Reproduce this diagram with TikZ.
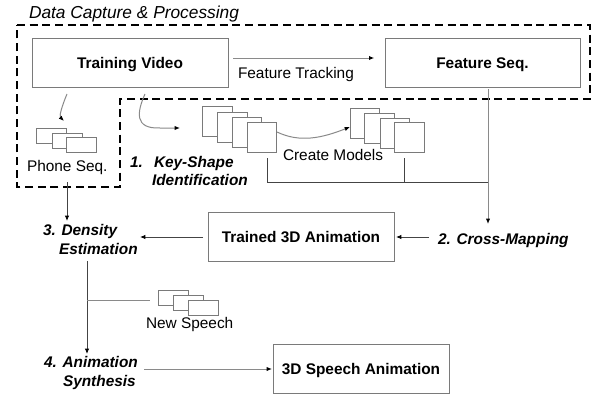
\documentclass[tikz,border=0pt]{standalone}
\usepackage{fontspec}
\setmainfont{Liberation Sans}
\usetikzlibrary{arrows.meta}
\definecolor{boxgray}{HTML}{7A7A7A}
\definecolor{linegray}{HTML}{8A8A8A}
\definecolor{darkline}{HTML}{444444}
\begin{document}
\begin{tikzpicture}[x=0.75pt,y=-0.75pt,
  every node/.style={inner sep=0pt,outer sep=0pt},
  txt/.style={font=\fontsize{11.55}{13}\selectfont,anchor=base west},
  ltxt/.style={font=\fontsize{11.55}{13}\selectfont\bfseries\itshape,anchor=base west},
  box/.style={draw=boxgray,line width=0.75pt,fill=white,minimum height=36.75pt,
    text height=8.3pt,text depth=0pt,font=\fontsize{11.55}{13}\selectfont\bfseries},
  card/.style={draw=boxgray,line width=0.75pt,fill=white,minimum width=22.5pt,minimum height=11.25pt},
  sq/.style={draw=boxgray,line width=0.75pt,fill=white,minimum width=22pt,minimum height=22.5pt},
  conn/.style={draw=linegray,line width=0.75pt},
  dconn/.style={draw=darkline,line width=0.6pt},
  arr/.style={-{Latex[length=4pt,width=3.2pt,color=black]}},
  dashbox/.style={draw=black,line width=1.6pt,dash pattern=on 6pt off 3.5pt}
]
\useasboundingbox (0,0) rectangle (597,396);
\fill[white] (0,0) rectangle (597,396);

% title
\node[txt,font=\fontsize{13}{15}\selectfont\itshape] (title) at (29,18.5) {Data Capture \& Processing};

% dashed region
\draw[dashbox] (17,25) -- (590,25) -- (590,99) -- (120,99) -- (120,187) -- (17,187) -- cycle;

% main boxes
\node[box,minimum width=147pt] (tv) at (130,62.5) {Training Video};
\node[box,minimum width=146.25pt] (fs) at (482.5,62.5) {Feature Seq.};
\node[box,minimum width=139.5pt] (ta) at (301,236.5) {Trained 3D Animation};
\node[box,minimum width=132pt] (sa) at (361,368.5) {3D Speech Animation};

% labels
\node[txt] (ft) at (238,79) {Feature Tracking};
\node[txt] (ps) at (27,171) {Phone Seq.};
\node[ltxt] (k1) at (130,167) {1.};
\node[ltxt] (k2) at (154,167) {Key-Shape};
\node[ltxt] (k3) at (152,185) {Identification};
\node[txt] (cm) at (283,160) {Create Models};
\node[ltxt] (d1) at (43,235) {3. Density};
\node[ltxt] (d2) at (59,254) {Estimation};
\node[ltxt] (cx) at (438,244) {2. Cross-Mapping};
\node[txt] (ns) at (146,328) {New Speech};
\node[ltxt] (a1) at (44,367.5) {4. Animation};
\node[ltxt] (a2) at (63,386) {Synthesis};

% phone seq cards
\node[card] (p1) at (51.5,135.5) {};
\node[card] (p2) at (67,140.5) {};
\node[card] (p3) at (81.5,145) {};

% key shape squares
\node[sq] (s1) at (217.5,121) {};
\node[sq] (s2) at (232.5,127) {};
\node[sq] (s3) at (247,132) {};
\node[sq] (s4) at (262,137) {};

% create models squares
\node[sq] (m1) at (365,123) {};
\node[sq] (m2) at (379.5,128) {};
\node[sq] (m3) at (395,133) {};
\node[sq] (m4) at (409.5,137.5) {};

% new speech cards
\node[card] (n1) at (173.5,297.5) {};
\node[card] (n2) at (188.5,302.5) {};
\node[card] (n3) at (203,307.5) {};

% coordinates
\coordinate (tvA) at (67,94);
\coordinate (tvB) at (145,94);
\coordinate (psE) at (64,121);
\coordinate (ksE) at (180,128);
\coordinate (s4r) at (277,132);
\coordinate (m1l) at (350,127);
\coordinate (j1) at (267,158);
\coordinate (j2) at (267,182);
\coordinate (j3) at (404,158);
\coordinate (j4) at (404,182);
\coordinate (fsB) at (488,89);
\coordinate (j5) at (488,182);
\coordinate (cxT) at (488,224);
\coordinate (cxL) at (429,237);
\coordinate (taR) at (396,237);
\coordinate (taL) at (203,237);
\coordinate (deR) at (140,237);
\coordinate (psB) at (67,182);
\coordinate (deT) at (67,221);
\coordinate (deB) at (87,261);
\coordinate (br) at (87,300);
\coordinate (nsL) at (150,300);
\coordinate (asT) at (87,354);
\coordinate (asR) at (144,369);
\coordinate (saL) at (272,369);

% connectors
\draw[conn,arr] (tv.east) ++(5,-4.5) coordinate (tvR) -- ([xshift=-8]fs.west |- tvR);
\draw[conn,arr] (tvA) .. controls (62,106) and (59,116) .. (psE);
\draw[conn,arr] (tvB) .. controls (137,112) and (134,129) .. (160,128) -- (ksE);
\draw[conn,arr] (s4r) .. controls (300,143) and (322,138) .. (m1l);
\draw[dconn] (j1) -- (j2) -- (j5);
\draw[dconn] (j3) -- (j4);
\draw[conn,arr] (fsB) -- (cxT);
\draw[dconn,arr] (cxL) -- (taR);
\draw[dconn,arr] (taL) -- (deR);
\draw[dconn,arr] (psB) -- (deT);
\draw[dconn,arr] (deB) -- (asT);
\draw[conn] (br) -- (nsL);
\draw[conn,arr] (asR) -- (saL);
\end{tikzpicture}
\end{document}
